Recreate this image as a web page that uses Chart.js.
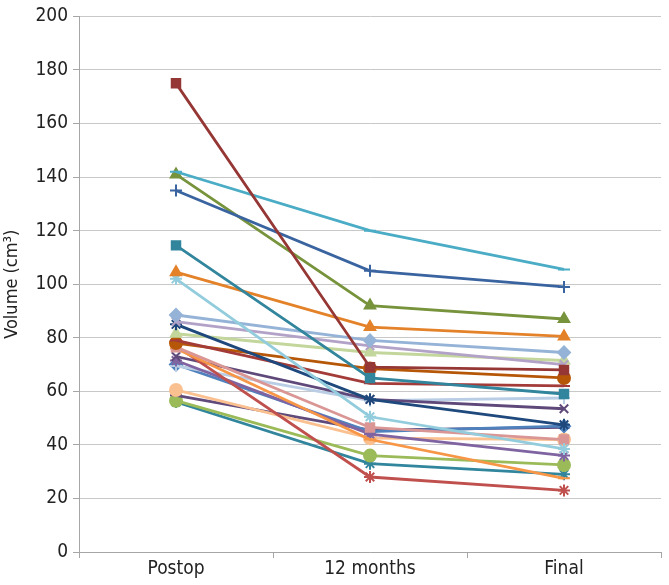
<!DOCTYPE html>
<html>
<head>
<meta charset="utf-8">
<script src="https://cdn.jsdelivr.net/npm/chart.js@4"></script>
<style>
  html, body { margin: 0; padding: 0; background: #fff; }
  #wrap { width: 669px; height: 585px; }
</style>
</head>
<body>
<div id="wrap"><canvas id="volChart" width="669" height="585"></canvas></div>
<script>
// 시점별 부피 변화 (Postop → 12 months → Final)
const categories = ["Postop", "12 months", "Final"];
const yTicks = [0, 20, 40, 60, 80, 100, 120, 140, 160, 180, 200];

// 환자별 값
const p01 = [175, 69, 68];
const p02 = [142, 120, 105.5];
const p03 = [135, 105, 99];
const p04 = [141, 92, 87];
const p05 = [114.5, 65, 59];
const p06 = [104.5, 84, 80.5];
const p07 = [102, 50.5, 38.5];
const p08 = [88.5, 79, 74.5];
const p09 = [86, 77, 70];
const p10 = [85, 57, 47.5];
const p11 = [81.5, 74.5, 71.5];
const p12 = [79, 63, 62];
const p13 = [78, 68.5, 65];
const p14 = [76.5, 46.5, 42];
const p15 = [76, 42, 27.5];
const p16 = [77, 28, 23];
const p17 = [73, 57, 53.5];
const p18 = [71.5, 44, 36];
const p19 = [69.5, 56.5, 57.5];
const p20 = [70, 45, 47];
const p21 = [60.5, 42.5, 42];
const p22 = [58.5, 45.5, 46.5];
const p23 = [56.5, 36, 32.5];
const p24 = [56, 33, 29];

const series = [
  [p01, "#953735", "rect"],
  [p02, "#4BACC6", "line"],
  [p03, "#3A64A0", "cross"],
  [p04, "#77933C", "triangle"],
  [p05, "#31859C", "rect"],
  [p06, "#E4822A", "triangle"],
  [p07, "#93CDDD", "star"],
  [p08, "#95B3D7", "rectRot"],
  [p09, "#B3A2C7", "crossRot"],
  [p10, "#1F497D", "star"],
  [p11, "#C3D69B", "triangle"],
  [p12, "#A33B39", "line"],
  [p13, "#B65708", "circle"],
  [p14, "#D99694", "rect"],
  [p15, "#F79646", "line"],
  [p16, "#C0504D", "star"],
  [p17, "#5F497A", "crossRot"],
  [p18, "#8064A2", "star"],
  [p19, "#B9CDE5", "cross"],
  [p20, "#4F81BD", "rectRot"],
  [p21, "#FAC090", "circle"],
  [p22, "#604A7B", "line"],
  [p23, "#9BBB59", "circle"],
  [p24, "#31859C", "star"],
];

const font = '"Liberation Sans Narrow", "DejaVu Sans Condensed", "Roboto", sans-serif';

new Chart(document.getElementById("volChart").getContext("2d"), {
  type: "line",
  data: {
    labels: categories,
    datasets: series.map(([vals, color, shape], i) => ({
      label: "P" + (i + 1),
      data: vals,
      borderColor: color,
      backgroundColor: color,
      pointStyle: shape,
      pointRadius: 6,
      pointBorderWidth: 2,
      borderWidth: 2.8,
      tension: 0,
    })),
  },
  options: {
    responsive: false,
    animation: false,
    layout: { padding: { top: 14, right: 8, left: 0, bottom: 0 } },
    plugins: { legend: { display: false }, tooltip: { enabled: false } },
    scales: {
      x: {
        offset: true,
        grid: {
          offset: true,
          drawOnChartArea: false,
          color: "#a6a6a6",
          tickLength: 6,
        },
        border: { color: "#a6a6a6", width: 1 },
        ticks: { color: "#222", font: { family: font, size: 19 }, padding: 0 },
        afterFit: (s) => { s.height = 33; },
      },
      y: {
        min: 0,
        max: 200,
        afterBuildTicks: (s) => { s.ticks = yTicks.map((v) => ({ value: v })); },
        grid: { color: "#c8c8c8", tickLength: 6, tickColor: "#a6a6a6" },
        border: { color: "#a6a6a6", width: 1 },
        ticks: { color: "#222", font: { family: font, size: 19 }, padding: 5 },
        title: {
          display: true,
          text: "Volume (cm³)",
          color: "#222",
          font: { family: font, size: 18 },
          padding: { top: 2, bottom: 0 },
        },
        afterFit: (s) => { s.width = 79; },
      },
    },
  },
});
</script>
</body>
</html>
